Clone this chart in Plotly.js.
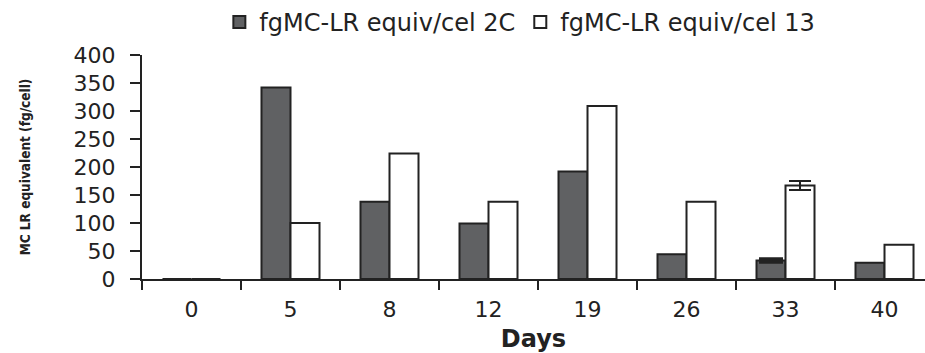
<!DOCTYPE html>
<html>
<head>
<meta charset="utf-8">
<script src="https://cdn.plot.ly/plotly-3.0.1.min.js"></script>
<style>html,body{margin:0;padding:0;background:#fff;}#chart{width:925px;height:353px;}</style>
</head>
<body>
<div id="chart"></div>
<script>
var days = ["0", "5", "8", "12", "19", "26", "33", "40"];
var series2C = [0, 342, 138, 99, 192, 44, 33, 29];
var err2C = [NaN, NaN, NaN, NaN, NaN, NaN, 3, NaN];
var series13 = [0, 100, 224, 138, 309, 138, 167, 61];
var err13 = [NaN, NaN, NaN, NaN, NaN, NaN, 8, NaN];
var name2C = "fgMC-LR equiv/cel 2C";
var name13 = "fgMC-LR equiv/cel 13";
var yTicks = [0, 50, 100, 150, 200, 250, 300, 350, 400];

var lineCol = "#222222";
var traces = [
  {
    type: "bar", x: days, y: series2C, name: name2C,
    marker: {color: "#606163", line: {color: lineCol, width: 2}},
    error_y: {type: "data", array: err2C, visible: true, color: lineCol, thickness: 3, width: 12}
  },
  {
    type: "bar", x: days, y: series13, name: name13,
    marker: {color: "#ffffff", line: {color: lineCol, width: 2}},
    error_y: {type: "data", array: err13, visible: true, color: lineCol, thickness: 2, width: 11}
  }
];

var font = "DejaVu Sans, Liberation Sans, Arial, sans-serif";
var layout = {
  width: 925, height: 353,
  margin: {l: 142, r: 0, t: 55, b: 74, pad: 0},
  paper_bgcolor: "#ffffff", plot_bgcolor: "#ffffff",
  barmode: "group", bargap: 0.414, bargroupgap: 0,
  showlegend: true,
  legend: {
    orientation: "h", xref: "container", yref: "container",
    x: 0.562, xanchor: "center", y: 1.0, yanchor: "top",
    font: {family: font, size: 24, color: "#222"},
    itemwidth: 30, traceorder: "normal"
  },
  font: {family: font, color: "#222"},
  xaxis: {
    type: "category", range: [-0.5, 7.409],
    showline: true, linecolor: lineCol, linewidth: 2, layer: "above traces",
    ticks: "outside", tickson: "boundaries", ticklen: 9, tickwidth: 2, tickcolor: lineCol,
    tickfont: {family: font, size: 22, color: "#222"},
    ticklabelstandoff: 10,
    showgrid: false, zeroline: false,
    title: {text: "<b>Days</b>", font: {family: font, size: 24, color: "#222"}, standoff: 12}
  },
  yaxis: {
    range: [0, 400], tickvals: yTicks, ticktext: yTicks.map(String),
    showline: true, linecolor: lineCol, linewidth: 2,
    ticks: "outside", ticklen: 10, tickwidth: 2, tickcolor: lineCol,
    tickfont: {family: font, size: 22, color: "#222"},
    ticklabelstandoff: 10,
    showgrid: false, zeroline: false,
    title: {text: "<b>MC LR equivalent (fg/cell)</b>", font: {family: "Liberation Sans Narrow, DejaVu Sans Condensed, sans-serif", size: 13.5, color: "#222"}, standoff: 40}
  }
};

Plotly.newPlot("chart", traces, layout, {displayModeBar: false, staticPlot: true});
</script>
</body>
</html>
